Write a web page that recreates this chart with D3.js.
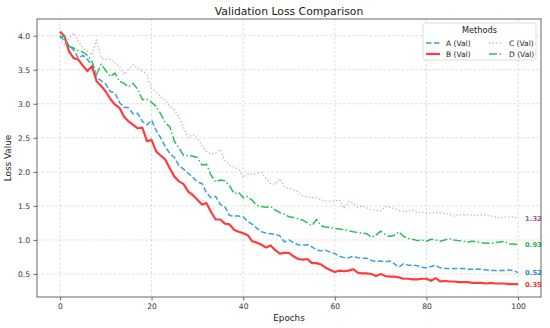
<!DOCTYPE html>
<html><head><meta charset="utf-8">
<script src="https://cdn.jsdelivr.net/npm/d3@7/dist/d3.min.js"></script>
<style>body{margin:0;background:#fff} text{font-family:"DejaVu Sans",sans-serif}</style>
</head><body><svg id="c" width="550" height="328"></svg>
<script>
const epochs = d3.range(0, 101);
const seriesNames = ["A (Val)", "B (Val)", "C (Val)", "D (Val)"];
const seriesA = [4.00,3.92,3.86,3.79,3.67,3.71,3.65,3.57,3.39,3.34,
 3.29,3.18,3.16,3.02,2.95,2.94,2.85,2.86,2.74,2.69,
 2.76,2.61,2.50,2.37,2.27,2.21,2.09,2.04,1.98,1.92,
 1.85,1.83,1.69,1.62,1.64,1.52,1.49,1.36,1.35,1.35,
 1.34,1.27,1.23,1.17,1.12,1.10,1.09,1.08,1.06,0.97,
 1.00,0.96,0.93,0.92,0.93,0.90,0.85,0.84,0.85,0.82,
 0.80,0.76,0.74,0.74,0.76,0.74,0.73,0.73,0.70,0.68,
 0.69,0.68,0.69,0.65,0.60,0.65,0.63,0.63,0.62,0.60,
 0.59,0.61,0.63,0.59,0.58,0.58,0.58,0.58,0.58,0.57,
 0.57,0.57,0.57,0.56,0.55,0.55,0.55,0.55,0.56,0.55,0.52];
const seriesB = [4.06,3.99,3.77,3.67,3.65,3.56,3.48,3.55,3.33,3.26,
 3.18,3.07,2.99,2.94,2.81,2.74,2.69,2.64,2.65,2.45,
 2.47,2.30,2.24,2.18,2.05,1.93,1.86,1.82,1.71,1.66,
 1.59,1.52,1.54,1.41,1.30,1.30,1.24,1.23,1.15,1.12,
 1.10,1.07,0.98,0.96,0.93,0.89,0.92,0.85,0.80,0.81,
 0.81,0.76,0.72,0.71,0.72,0.66,0.66,0.64,0.59,0.56,
 0.53,0.55,0.54,0.55,0.57,0.52,0.51,0.51,0.50,0.47,
 0.50,0.47,0.46,0.46,0.45,0.43,0.43,0.42,0.42,0.43,
 0.43,0.40,0.44,0.39,0.40,0.39,0.39,0.38,0.38,0.38,
 0.37,0.37,0.37,0.36,0.37,0.36,0.36,0.36,0.35,0.35,0.35];
const seriesC = [3.97,3.87,3.96,4.04,3.92,3.82,3.77,3.72,3.94,3.67,
 3.65,3.66,3.60,3.55,3.43,3.50,3.57,3.52,3.48,3.43,
 3.22,3.18,3.10,3.05,2.96,2.91,2.80,2.65,2.50,2.55,
 2.50,2.39,2.30,2.26,2.28,2.33,2.17,2.10,2.07,2.04,
 1.92,1.97,1.96,1.98,1.99,1.90,1.83,1.82,1.90,1.78,
 1.76,1.74,1.71,1.65,1.63,1.62,1.62,1.59,1.57,1.57,
 1.57,1.59,1.46,1.56,1.54,1.48,1.50,1.47,1.44,1.43,
 1.43,1.49,1.48,1.46,1.43,1.42,1.42,1.44,1.40,1.41,
 1.40,1.39,1.40,1.40,1.39,1.38,1.35,1.37,1.37,1.37,
 1.36,1.36,1.37,1.36,1.35,1.34,1.32,1.34,1.34,1.34,1.32];
const seriesD = [3.98,3.99,3.84,3.82,3.78,3.76,3.71,3.62,3.43,3.58,
 3.49,3.40,3.45,3.33,3.30,3.25,3.30,3.21,3.06,3.07,
 3.02,2.96,2.85,2.72,2.66,2.45,2.35,2.24,2.24,2.23,
 2.21,2.10,2.11,1.95,1.85,1.88,1.87,1.80,1.68,1.70,
 1.62,1.64,1.58,1.51,1.49,1.48,1.49,1.44,1.40,1.38,
 1.34,1.33,1.31,1.29,1.25,1.21,1.30,1.21,1.19,1.18,
 1.17,1.16,1.15,1.14,1.12,1.11,1.10,1.09,1.04,1.07,
 1.13,1.08,1.05,1.07,1.12,1.05,1.02,1.01,0.99,1.00,
 0.98,1.01,1.00,0.98,1.00,1.02,1.00,0.99,0.98,0.97,
 0.98,0.97,0.96,0.95,0.95,0.96,0.97,0.98,0.94,0.94,0.93];
const xTickValues = [0, 20, 40, 60, 80, 100];
const yTickValues = [0.5, 1.0, 1.5, 2.0, 2.5, 3.0, 3.5, 4.0];
const endLabels = ["0.52", "0.35", "1.32", "0.93"];

const styles = [
  {color:"#3aa0dc", width:1.5, dash:"5.5,2.4", opacity:1, label:"#2a86c4"},
  {color:"#ff3c3c", width:2.2, dash:null, opacity:1, label:"#ff3030"},
  {color:"#c8a2dc", width:1.3, dash:"1.3,2.2", opacity:0.95, label:"#9b59b6"},
  {color:"#27c05a", width:1.5, dash:"8,2.4,1.5,2.4", opacity:1, label:"#22b04c"}
];
const data = [seriesA, seriesB, seriesC, seriesD];

const svg = d3.select("#c");
const x = d3.scaleLinear().domain([-5, 105]).range([37, 541]);
const y = d3.scaleLinear().domain([0.162, 4.245]).range([297, 19]);

// grid
const grid = svg.append("g");
grid.selectAll("line.gx").data(xTickValues).join("line")
  .attr("x1", d => x(d)).attr("x2", d => x(d)).attr("y1", 19).attr("y2", 297)
  .attr("stroke", "#cfcfcf").attr("stroke-width", 0.7).attr("stroke-dasharray", "2.5,2");
grid.selectAll("line.gy").data(yTickValues).join("line")
  .attr("y1", d => y(d)).attr("y2", d => y(d)).attr("x1", 37).attr("x2", 541)
  .attr("stroke", "#cfcfcf").attr("stroke-width", 0.7).attr("stroke-dasharray", "2.5,2");

// lines
const line = d3.line().x((d, i) => x(epochs[i])).y(d => y(d));
data.forEach((s, k) => {
  const st = styles[k];
  const p = svg.append("path").datum(s).attr("d", line)
    .attr("fill", "none").attr("stroke", st.color).attr("stroke-width", st.width)
    .attr("stroke-opacity", st.opacity).attr("stroke-linejoin", "round");
  if (st.dash) p.attr("stroke-dasharray", st.dash);
});

// end labels
data.forEach((s, k) => {
  svg.append("text").attr("x", x(100) + 7).attr("y", y(s[s.length - 1]))
    .attr("dy", "0.35em").attr("font-size", 6.8).attr("font-weight", "bold")
    .attr("fill", styles[k].label).text(endLabels[k]);
});

// axes
const xAxis = svg.append("g").attr("transform", "translate(0,297)")
  .call(d3.axisBottom(x).tickValues(xTickValues).tickFormat(d3.format("d")).tickSize(3.5).tickPadding(3));
const yAxis = svg.append("g").attr("transform", "translate(37,0)")
  .call(d3.axisLeft(y).tickValues(yTickValues).tickFormat(d3.format(".1f")).tickSize(3.5).tickPadding(3.5));
[xAxis, yAxis].forEach(a => {
  a.select(".domain").remove();
  a.selectAll(".tick line").attr("stroke", "#444").attr("stroke-width", 0.8);
  a.selectAll(".tick text").attr("font-size", 7.6).attr("fill", "#333").attr("font-family", "DejaVu Sans");
});
svg.append("rect").attr("x", 37).attr("y", 19).attr("width", 504).attr("height", 278)
  .attr("fill", "none").attr("stroke", "#444").attr("stroke-width", 0.8);

// titles
svg.append("text").attr("x", 289).attr("y", 15).attr("text-anchor", "middle")
  .attr("font-size", 10.8).attr("fill", "#222").text("Validation Loss Comparison");
svg.append("text").attr("x", 289).attr("y", 321).attr("text-anchor", "middle")
  .attr("font-size", 8.8).attr("fill", "#222").text("Epochs");
svg.append("text").attr("transform", "translate(11,158) rotate(-90)").attr("text-anchor", "middle")
  .attr("font-size", 8.8).attr("fill", "#222").text("Loss Value");

// legend
const lg = svg.append("g");
lg.append("rect").attr("x", 423).attr("y", 23).attr("width", 113).attr("height", 37).attr("rx", 2)
  .attr("fill", "#fff").attr("fill-opacity", 0.85).attr("stroke", "#d6d6d6").attr("stroke-width", 0.8);
lg.append("text").attr("x", 479.5).attr("y", 33).attr("text-anchor", "middle")
  .attr("font-size", 8.2).attr("fill", "#222").text("Methods");
const pos = [[426, 43], [426, 54], [489, 43], [489, 54]];
seriesNames.forEach((n, k) => {
  const st = styles[k];
  const [px, py] = pos[k];
  const l = lg.append("line").attr("x1", px).attr("x2", px + 14).attr("y1", py).attr("y2", py)
    .attr("stroke", st.color).attr("stroke-width", st.width).attr("stroke-opacity", st.opacity);
  if (st.dash) l.attr("stroke-dasharray", st.dash);
  lg.append("text").attr("x", px + 20).attr("y", py).attr("dy", "0.35em")
    .attr("font-size", 7.5).attr("fill", "#222").text(n);
});
</script></body></html>
